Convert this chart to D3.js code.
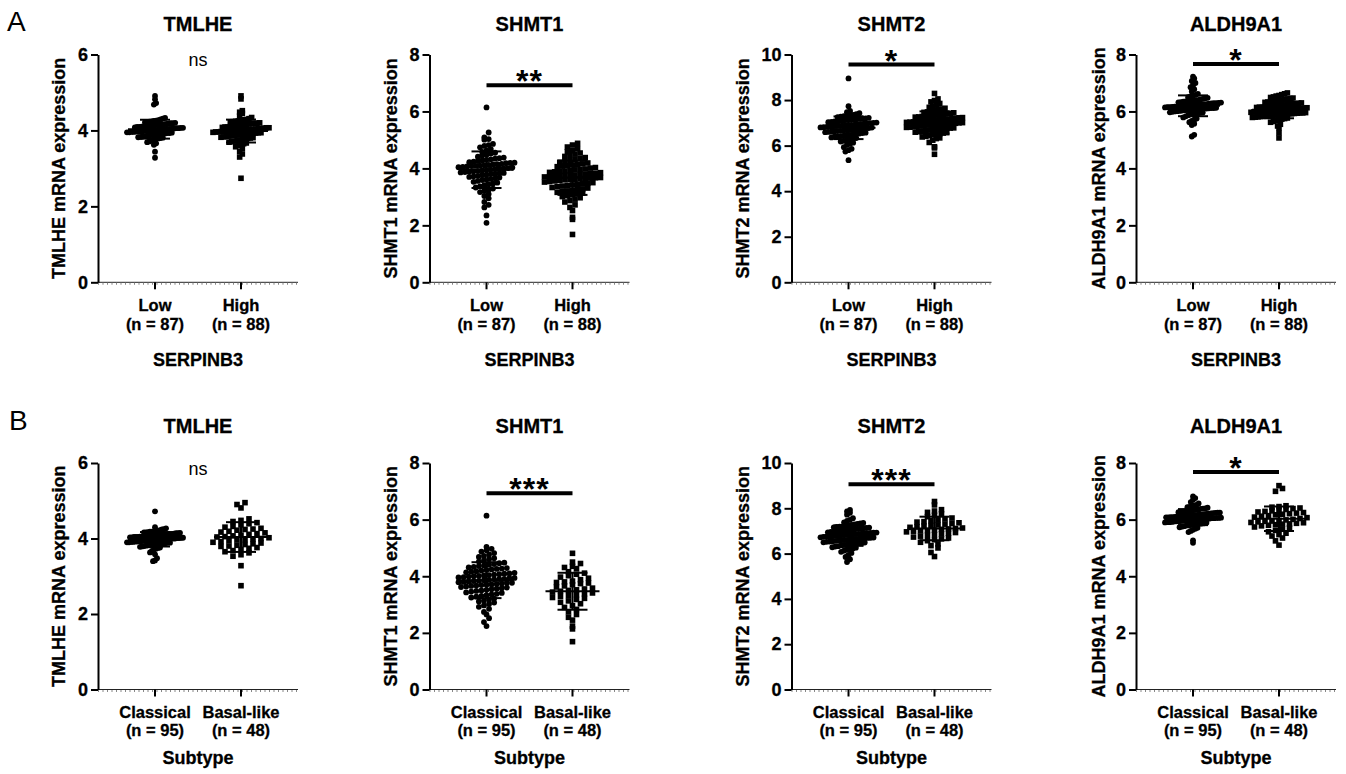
<!DOCTYPE html>
<html>
<head>
<meta charset="utf-8">
<script src="https://cdn.jsdelivr.net/npm/d3@7"></script>
<style>
  body { margin: 0; background: #fff; }
  svg { display: block; }
  .heavy { stroke: #000; stroke-width: 0.3px; }
</style>
</head>
<body>
<script>
// genes, axes and group labels
const genes = ['TMLHE', 'SHMT1', 'SHMT2', 'ALDH9A1'];
const yMax = [6, 8, 10, 8];
const yTicks = [[0, 2, 4, 6], [0, 2, 4, 6, 8], [0, 2, 4, 6, 8, 10], [0, 2, 4, 6, 8]];

const groupsA = ['Low', 'High'];
const countsA = ['(n = 87)', '(n = 88)'];
const groupsB = ['Classical', 'Basal-like'];
const countsB = ['(n = 95)', '(n = 48)'];
const xTitleA = 'SERPINB3';
const xTitleB = 'Subtype';

// significance marks and where they sit (data units)
const sigA = ['ns', '**', '*', '*'];
const sigAtA = [5.69, 6.92, 9.56, 7.67];
const sigB = ['ns', '***', '***', '*'];
const sigAtB = [5.69, 6.93, 9.06, 7.68];

// ---- A: SERPINB3 low / high ----
const serpTMLHE_low = [4.91,4.82,4.72,4.68,3.44,3.28,
  3.62,3.66,3.69, 3.71,3.73,3.76,3.78,3.79,
  3.80,3.81,3.82,3.83,3.84,3.85,3.86,3.87,3.88,3.88,3.89,
  3.90,3.91,3.91,3.92,3.93,3.93,3.94,3.95,3.95,3.96,3.96,3.97,3.97,3.98,3.98,3.99,3.99,
  4.00,4.00,4.01,4.01,4.02,4.02,4.03,4.03,4.04,4.04,4.05,4.05,4.06,4.06,4.07,4.07,4.08,4.09,4.09,
  4.10,4.10,4.11,4.12,4.12,4.13,4.14,4.14,4.15,4.16,4.16,4.17,4.18,4.19,4.19,
  4.20,4.21,4.22,4.23,4.24,4.25,4.26,4.27,4.29, 4.31,4.33];
const serpTMLHE_high = [4.91,4.83,4.52,4.48,4.45,
  4.31,4.34,4.38, 4.20,4.21,4.23,4.24,4.25,4.27,4.28,4.29,
  4.10,4.11,4.12,4.13,4.14,4.15,4.16,4.17,4.18,4.19,4.19,
  4.00,4.00,4.01,4.02,4.02,4.03,4.03,4.04,4.05,4.05,4.06,4.07,4.07,4.08,4.09,4.09,
  3.90,3.90,3.91,3.92,3.92,3.93,3.94,3.94,3.95,3.96,3.96,3.97,3.97,3.98,3.98,3.99,3.99,
  3.80,3.81,3.82,3.83,3.84,3.85,3.86,3.87,3.88,3.89,
  3.70,3.72,3.73,3.75,3.76,3.78,3.79, 3.61,3.63,3.65,3.67,3.69,
  3.53,3.57, 3.45,3.38,3.30, 2.74];

const serpSHMT1_low = [6.14,5.26,5.09,5.03,5.01,4.86,4.82,4.79,
  4.62,4.68,4.74, 4.41,4.45,4.48,4.52,4.55,4.58,
  4.20,4.22,4.24,4.26,4.28,4.30,4.32,4.34,4.36,4.38,
  4.00,4.01,4.03,4.04,4.05,4.07,4.08,4.09,4.10,4.11,4.12,4.14,4.15,4.16,4.18,4.19,
  3.80,3.81,3.83,3.84,3.86,3.87,3.88,3.90,3.91,3.93,3.94,3.96,3.97,3.99,
  3.61,3.63,3.65,3.68,3.70,3.72,3.74,3.76,3.78,
  3.41,3.44,3.47,3.50,3.53,3.56,3.59, 3.21,3.25,3.29,3.33,3.37,
  3.03,3.10,3.17, 2.95,2.82,2.72,2.63, 2.35,2.09];
const serpSHMT1_high = [4.88,4.82, 4.62,4.69,4.75, 4.42,4.46,4.50,4.54,4.58,
  4.21,4.24,4.28,4.31,4.34,4.38, 4.01,4.03,4.06,4.08,4.10,4.12,4.14,4.16,4.19,
  3.80,3.82,3.83,3.85,3.86,3.88,3.90,3.91,3.93,3.95,3.96,3.98,
  3.60,3.61,3.62,3.63,3.65,3.66,3.67,3.68,3.70,3.71,3.72,3.73,3.75,3.76,3.77,3.79,
  3.40,3.42,3.44,3.46,3.48,3.50,3.52,3.54,3.56,3.58,
  3.21,3.23,3.26,3.28,3.31,3.33,3.36,3.38, 3.01,3.04,3.07,3.10,3.13,3.16,3.19,
  2.82,2.87,2.92,2.97, 2.63,2.72, 2.52,2.28,2.21, 1.68];

const serpSHMT2_low = [8.95,7.73, 7.42,7.47,7.52,
  7.20,7.22,7.25,7.27,7.29,7.31,7.33,7.35,7.38,
  7.00,7.01,7.03,7.04,7.06,7.07,7.09,7.10,7.12,7.13,7.15,7.16,7.18,7.19,
  6.80,6.81,6.82,6.84,6.85,6.86,6.87,6.88,6.89,6.90,6.91,6.92,6.94,6.95,6.96,6.97,6.99,
  6.60,6.61,6.63,6.64,6.65,6.67,6.68,6.69,6.71,6.72,6.73,6.75,6.76,6.77,6.79,
  6.40,6.42,6.44,6.46,6.47,6.49,6.51,6.53,6.55,6.57,6.59,
  6.21,6.24,6.27,6.30,6.33,6.36,6.39, 6.03,6.08,6.13,6.18, 5.93,5.86,5.80,5.74, 5.36];
const serpSHMT2_high = [8.29, 7.92,7.98,8.05, 7.72,7.78,7.85, 7.51,7.54,7.58,7.61,7.64,7.68,
  7.30,7.32,7.34,7.36,7.38,7.40,7.42,7.44,7.46,7.48,
  7.10,7.11,7.13,7.14,7.16,7.17,7.19,7.20,7.22,7.23,7.25,7.26,7.28,7.29,
  6.90,6.91,6.92,6.93,6.94,6.95,6.96,6.97,6.98,7.00,7.01,7.02,7.03,7.04,7.05,7.06,7.07,7.09,
  6.70,6.72,6.73,6.74,6.76,6.77,6.78,6.80,6.81,6.83,6.84,6.86,6.88,
  6.50,6.52,6.55,6.57,6.59,6.61,6.64,6.66,6.68,
  6.31,6.34,6.38,6.41,6.44,6.48, 6.14,6.24, 5.95,5.90,5.62];

const serpALDH9A1_low = [7.22,7.16, 6.92,7.00,7.07, 6.62,6.70,6.78,6.85,
  6.40,6.42,6.44,6.46,6.48,6.50,6.53,6.55,6.58,
  6.30,6.31,6.32,6.33,6.34,6.35,6.36,6.37,6.38,6.39,
  6.20,6.21,6.21,6.22,6.23,6.24,6.25,6.25,6.26,6.27,6.28,6.29,6.29,
  6.10,6.10,6.11,6.12,6.12,6.13,6.14,6.15,6.15,6.16,6.17,6.17,6.18,6.19,6.19,
  6.00,6.01,6.02,6.03,6.04,6.05,6.05,6.06,6.07,6.08,6.09,6.09,
  5.90,5.91,5.92,5.94,5.95,5.96,5.97,5.99,
  5.71,5.75,5.79,5.83,5.87, 5.52,5.57,5.62,5.67, 5.18,5.12];
const serpALDH9A1_high = [6.62,6.65, 6.51,6.54,6.56,6.59, 6.40,6.42,6.44,6.45,6.47,6.49,
  6.30,6.32,6.33,6.35,6.36,6.38,6.39, 6.20,6.21,6.22,6.23,6.24,6.25,6.26,6.27,6.29,
  6.10,6.11,6.12,6.13,6.14,6.15,6.15,6.16,6.17,6.18,6.19,
  6.00,6.01,6.01,6.02,6.03,6.04,6.05,6.05,6.06,6.07,6.08,6.09,6.09,
  5.90,5.90,5.91,5.92,5.92,5.93,5.94,5.95,5.95,5.96,5.97,5.98,5.98,5.99,
  5.80,5.81,5.82,5.83,5.84,5.85,5.86,5.87,5.89,
  5.71,5.73,5.75,5.77,5.79, 5.62,5.65,5.68, 5.43,5.49,5.55, 5.25,5.07];

// ---- B: subtype classical / basal-like ----
const subTMLHE_classical = [4.72, 4.20,4.22,4.24,4.25,4.27,4.30,
  4.10,4.10,4.11,4.12,4.12,4.13,4.14,4.14,4.15,4.16,4.16,4.17,4.18,4.18,4.19,4.19,
  4.00,4.00,4.00,4.01,4.01,4.02,4.02,4.03,4.03,4.04,4.04,4.04,4.05,4.05,4.06,4.06,4.06,4.07,4.07,4.08,4.08,4.09,4.09,4.09,
  3.90,3.90,3.91,3.91,3.92,3.92,3.93,3.93,3.94,3.94,3.95,3.95,3.96,3.96,3.96,3.97,3.97,3.98,3.98,3.99,3.99,3.99,
  3.80,3.81,3.82,3.82,3.83,3.84,3.85,3.85,3.86,3.87,3.87,3.88,3.89,3.89,
  3.71,3.73,3.75,3.76,3.78,3.79, 3.58,3.63,3.67, 3.48,3.42,3.40];
const subTMLHE_basal = [4.95,4.90,4.81, 4.45,4.48,4.52, 4.36,4.39,4.42,
  4.22,4.24,4.25,4.27,4.30,4.32, 4.11,4.13,4.15,4.17,4.19,
  4.00,4.02,4.04,4.05,4.07,4.09, 3.90,3.92,3.94,3.96,3.97,3.99,
  3.80,3.82,3.84,3.86,3.88, 3.71,3.74,3.76,3.79, 3.62,3.65,3.68, 3.53,3.57, 3.28,2.75];

const subSHMT1_classical = [6.14, 4.92,4.97,5.04, 4.72,4.77,4.82,4.87, 4.52,4.56,4.60,4.64,4.68,
  4.31,4.33,4.36,4.38,4.41,4.43,4.46,4.48,
  4.10,4.12,4.14,4.16,4.18,4.20,4.22,4.24,4.26,4.27,4.29,
  3.90,3.91,3.93,3.94,3.96,3.97,3.99,4.00,4.01,4.03,4.04,4.06,4.07,4.09,
  3.70,3.71,3.73,3.74,3.76,3.77,3.79,3.80,3.81,3.83,3.84,3.86,3.87,3.89,
  3.50,3.52,3.54,3.56,3.58,3.60,3.62,3.64,3.66,3.67,3.69,
  3.31,3.33,3.36,3.38,3.41,3.43,3.46,3.48, 3.11,3.14,3.18,3.21,3.25,3.28,
  2.92,2.97,3.02,3.07, 2.65,2.74,2.85, 2.52,2.38,2.24];
const subSHMT1_basal = [4.81, 4.45,4.50, 4.27,4.31,4.35, 4.02,4.07,4.11,4.16, 3.83,3.88,3.93,3.97,
  3.62,3.66,3.70,3.74,3.76,3.78,3.80, 3.41,3.44,3.47,3.50,3.52,3.55,3.58,
  3.22,3.25,3.29,3.32,3.35,3.38, 3.03,3.08,3.13,3.18, 2.83,2.90,2.96,
  2.65,2.74, 2.45,2.55, 2.14,2.24, 1.69];

const subSHMT2_classical = [7.93,7.86,7.80,7.72, 7.44,7.49,7.56,
  7.20,7.22,7.25,7.27,7.29,7.31,7.33,7.35,7.38,
  7.00,7.01,7.03,7.04,7.06,7.07,7.09,7.10,7.12,7.13,7.15,7.16,7.18,7.19,
  6.80,6.81,6.82,6.83,6.84,6.85,6.86,6.87,6.88,6.89,6.90,6.91,6.92,6.93,6.94,6.96,6.97,6.99,
  6.60,6.61,6.62,6.63,6.64,6.65,6.67,6.68,6.69,6.70,6.71,6.72,6.74,6.75,6.76,6.77,6.79,
  6.40,6.41,6.43,6.44,6.46,6.47,6.49,6.50,6.52,6.53,6.55,6.56,6.58,6.59,
  6.21,6.23,6.26,6.28,6.31,6.33,6.36,6.38, 6.03,6.08,6.13,6.18, 5.94,5.85,5.75,5.63];
const subSHMT2_basal = [8.30,8.15, 7.82,7.88,7.94, 7.63,7.69,7.75, 7.41,7.45,7.49,7.53,7.57,
  7.21,7.24,7.27,7.30,7.33,7.36,7.39, 7.00,7.02,7.04,7.07,7.09,7.11,7.13,7.16,7.18,
  6.81,6.84,6.87,6.90,6.93,6.96,6.99, 6.61,6.65,6.69,6.73,6.77,
  6.43,6.50,6.57, 6.25,6.35, 6.05,5.87];

const subALDH9A1_classical = [6.82,6.76,6.70, 6.52,6.57,6.62, 6.40,6.42,6.44,6.45,6.47,6.49,
  6.30,6.31,6.33,6.34,6.35,6.36,6.38,6.39,
  6.20,6.21,6.22,6.23,6.24,6.25,6.25,6.26,6.27,6.28,6.29,
  6.10,6.11,6.11,6.12,6.13,6.13,6.14,6.15,6.16,6.16,6.17,6.18,6.18,6.19,
  6.00,6.00,6.01,6.01,6.02,6.03,6.03,6.04,6.05,6.05,6.06,6.06,6.07,6.08,6.08,6.09,6.09,
  5.90,5.91,5.91,5.92,5.93,5.94,5.94,5.95,5.96,5.97,5.97,5.98,5.99,
  5.80,5.81,5.82,5.83,5.84,5.85,5.86,5.87,5.89,
  5.71,5.73,5.75,5.77,5.79, 5.56,5.60,5.64,5.68, 5.27,5.18];
const subALDH9A1_basal = [7.20,7.10,7.00, 6.41,6.44,6.46,6.49, 6.31,6.34,6.36,6.39,
  6.21,6.23,6.25,6.27,6.29, 6.01,6.04,6.07,6.09,6.12,6.14,6.17,6.19,
  5.90,5.92,5.94,5.95,5.97,5.99, 5.80,5.82,5.84,5.85,5.87,5.89,
  5.62,5.66,5.70,5.74,5.78, 5.42,5.47,5.52,5.57, 5.25,5.35, 5.10];

// ---- layout ----
const W = 1346, H = 774;
const FONT = "'Liberation Sans', Arial, Helvetica, sans-serif";
const axisX = [98, 429.5, 791.5, 1136];
const plotW = 200;
const labelOff = [33, 33, 43, 31.5];

const panelRows = [
  { tag: 'A', tagX: 7, tagY: 31, titleY: 30.7, top: 54.5, bottom: 282.3,
    cats: groupsA, counts: countsA, xTitle: xTitleA, sig: sigA, sigAt: sigAtA,
    catDy1: 29, catDy2: 47.3, xTitleDy: 84,
    data: [[serpTMLHE_low, serpTMLHE_high], [serpSHMT1_low, serpSHMT1_high],
           [serpSHMT2_low, serpSHMT2_high], [serpALDH9A1_low, serpALDH9A1_high]] },
  { tag: 'B', tagX: 9, tagY: 430, titleY: 433.3, top: 463, bottom: 689.5,
    cats: groupsB, counts: countsB, xTitle: xTitleB, sig: sigB, sigAt: sigAtB,
    catDy1: 28.4, catDy2: 46.7, xTitleDy: 74.4,
    data: [[subTMLHE_classical, subTMLHE_basal], [subSHMT1_classical, subSHMT1_basal],
           [subSHMT2_classical, subSHMT2_basal], [subALDH9A1_classical, subALDH9A1_basal]] }
];

const svg = d3.select('body').append('svg')
  .attr('width', W).attr('height', H)
  .style('font-family', FONT);

// spread points sideways like a scatter dot plot: rows of ~symbol height,
// one step width per column so the busiest row fills the column
function swarm(values, y, rowH, maxHalf, maxStep) {
  const pts = values.map(v => ({ v: v, py: y(v) }));
  const byRow = d3.group(pts, p => Math.round(p.py / rowH));
  const nMax = d3.max(Array.from(byRow.values()), r => r.length);
  const step = nMax > 1 ? Math.min(maxStep, 2 * maxHalf / (nMax - 1)) : 0;
  byRow.forEach(r => {
    r.sort((a, b) => a.v - b.v);
    r.forEach((p, i) => { p.dx = (i - (r.length - 1) / 2) * step; });
  });
  return pts;
}

panelRows.forEach(row => {
  svg.append('text')
    .attr('x', row.tagX).attr('y', row.tagY)
    .attr('font-size', 28).text(row.tag);

  genes.forEach((gene, gi) => {
    const ax = axisX[gi];
    const g = svg.append('g');

    const y = d3.scaleLinear().domain([0, yMax[gi]]).range([row.bottom, row.top]);
    const x = d3.scalePoint().domain(row.cats).range([ax, ax + plotW]).padding(0.663);

    // title
    g.append('text').attr('class', 'heavy')
      .attr('x', ax + plotW / 2).attr('y', row.titleY)
      .attr('text-anchor', 'middle').attr('font-size', 20).attr('font-weight', 'bold')
      .text(gene);

    // x baseline with minor ticks
    g.append('line')
      .attr('x1', ax).attr('x2', ax + plotW)
      .attr('y1', row.bottom).attr('y2', row.bottom)
      .attr('stroke', '#222').attr('stroke-width', 1);
    g.append('line')
      .attr('x1', ax).attr('x2', ax + plotW)
      .attr('y1', row.bottom + 1.5).attr('y2', row.bottom + 1.5)
      .attr('stroke', '#888').attr('stroke-width', 2)
      .attr('stroke-dasharray', '1,3.5');

    // y axis
    const yAxis = g.append('g')
      .attr('transform', 'translate(' + ax + ',0)')
      .call(d3.axisLeft(y).tickValues(yTicks[gi]).tickFormat(d3.format('d'))
        .tickSize(7).tickPadding(3).tickSizeOuter(0));
    yAxis.select('.domain').attr('stroke', '#000').attr('stroke-width', 2);
    yAxis.selectAll('.tick line').attr('stroke', '#000').attr('stroke-width', 2);
    yAxis.selectAll('.tick text').attr('class', 'heavy')
      .attr('fill', '#000').attr('font-size', 18).attr('font-weight', 'bold')
      .attr('font-family', FONT);

    // y label
    g.append('text').attr('class', 'heavy')
      .attr('transform', 'translate(' + (ax - labelOff[gi]) + ',' + ((row.top + row.bottom) / 2) + ') rotate(-90)')
      .attr('text-anchor', 'middle').attr('font-size', 18).attr('font-weight', 'bold')
      .text(gene + ' mRNA expression');

    // category ticks and labels
    row.cats.forEach((c, ci) => {
      const cx = x(c);
      g.append('line')
        .attr('x1', cx).attr('x2', cx)
        .attr('y1', row.bottom).attr('y2', row.bottom + 7)
        .attr('stroke', '#000').attr('stroke-width', 2);
      g.append('text').attr('class', 'heavy')
        .attr('x', cx).attr('y', row.bottom + row.catDy1)
        .attr('text-anchor', 'middle').attr('font-size', 16.5).attr('font-weight', 'bold')
        .text(c);
      g.append('text').attr('class', 'heavy')
        .attr('x', cx).attr('y', row.bottom + row.catDy2)
        .attr('text-anchor', 'middle').attr('font-size', 16.5).attr('font-weight', 'bold')
        .text(row.counts[ci]);
    });

    g.append('text').attr('class', 'heavy')
      .attr('x', ax + plotW / 2).attr('y', row.bottom + row.xTitleDy)
      .attr('text-anchor', 'middle').attr('font-size', 18).attr('font-weight', 'bold')
      .text(row.xTitle);

    // points
    row.data[gi].forEach((vals, ci) => {
      const cx = x(row.cats[ci]);
      const pts = swarm(vals, y, 5, 28, 8);
      if (ci === 0) {
        g.append('g').selectAll('circle').data(pts).enter().append('circle')
          .attr('cx', d => cx + d.dx).attr('cy', d => d.py)
          .attr('r', 2.9).attr('fill', '#000');
      } else {
        g.append('g').selectAll('rect').data(pts).enter().append('rect')
          .attr('x', d => cx + d.dx - 2.8).attr('y', d => d.py - 2.8)
          .attr('width', 5.6).attr('height', 5.6).attr('fill', '#000');
      }

      // mean +/- SD
      const m = d3.mean(vals), sd = d3.deviation(vals);
      const eb = g.append('g').attr('stroke', '#000').attr('stroke-width', 2);
      eb.append('line').attr('x1', cx - 27).attr('x2', cx + 27).attr('y1', y(m)).attr('y2', y(m));
      eb.append('line').attr('x1', cx - 15).attr('x2', cx + 15).attr('y1', y(m + sd)).attr('y2', y(m + sd));
      eb.append('line').attr('x1', cx - 15).attr('x2', cx + 15).attr('y1', y(m - sd)).attr('y2', y(m - sd));
      eb.append('line').attr('x1', cx).attr('x2', cx).attr('y1', y(m + sd)).attr('y2', y(m - sd));
    });

    // significance
    const x1 = x(row.cats[0]), x2 = x(row.cats[1]);
    const sy = y(row.sigAt[gi]);
    if (row.sig[gi] === 'ns') {
      g.append('text')
        .attr('x', (x1 + x2) / 2).attr('y', sy)
        .attr('text-anchor', 'middle').attr('font-size', 18)
        .text('ns');
    } else {
      g.append('line')
        .attr('x1', x1).attr('x2', x2).attr('y1', sy).attr('y2', sy)
        .attr('stroke', '#000').attr('stroke-width', 4);
      g.append('text')
        .attr('x', (x1 + x2) / 2).attr('y', sy + 7)
        .attr('text-anchor', 'middle').attr('font-size', 32).attr('font-weight', 'bold')
        .attr('letter-spacing', 1)
        .text(row.sig[gi]);
    }
  });
});
</script>
</body>
</html>
